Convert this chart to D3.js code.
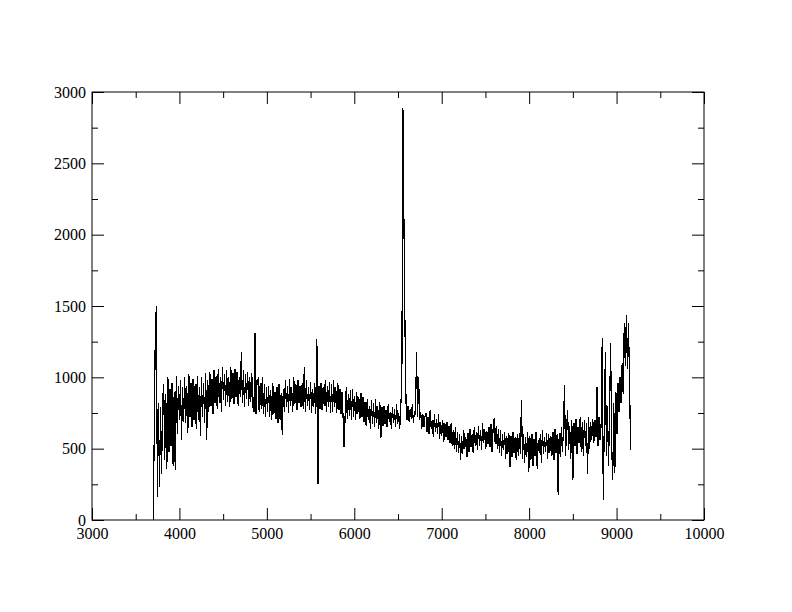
<!DOCTYPE html>
<html>
<head>
  <meta charset="utf-8">
  <script src="https://d3js.org/d3.v7.min.js"></script>
  <style>
    body { margin: 0; background: #fff; }
    .tick line { stroke: #000; }
  </style>
</head>
<body>
<script>
  var waveStart = 3700,
      waveStep = 12;

  var flux = [
    0, 600, 1310, 1500, 160, 820, 230, 790, 320, 840,          // 3700
    950, 420, 880, 360, 1000, 480, 920, 520, 960, 380,         // 3820
    900, 350, 1010, 600, 940, 700, 980, 560, 930, 690,         // 3940
    1000, 680, 940, 610, 1020, 720, 960, 650, 990, 700,        // 4060
    950, 640, 1010, 700, 930, 590, 1000, 720, 960, 680,        // 4180
    1030, 560, 980, 760, 1040, 800, 990, 740, 1050, 820,       // 4300
    1010, 780, 1060, 820, 1000, 760, 1070, 840, 1020, 800,     // 4420
    1050, 830, 1000, 790, 1070, 850, 1030, 810, 1060, 860,     // 4540
    1040, 800, 1000, 860, 1180, 820, 1050, 790, 1020, 850,     // 4660
    1040, 800, 1000, 830, 1030, 790, 760, 1310, 740, 980,      // 4780
    990, 760, 960, 780, 1000, 740, 950, 720, 930, 760,         // 4900
    940, 720, 910, 700, 960, 740, 900, 710, 930, 680,          // 5020
    950, 700, 890, 594, 920, 760, 980, 790, 940, 750,          // 5140
    990, 800, 930, 760, 1000, 810, 950, 770, 980, 820,         // 5260
    940, 790, 960, 780, 1070, 760, 980, 800, 930, 770,         // 5380
    970, 750, 920, 790, 960, 740, 1270, 250, 940, 780,         // 5500
    960, 770, 930, 800, 980, 760, 940, 790, 970, 750,          // 5620
    950, 760, 980, 790, 930, 750, 960, 770, 920, 740,          // 5740
    900, 720, 510, 740, 930, 710, 880, 730, 910, 700,          // 5860
    920, 720, 870, 700, 900, 740, 860, 710, 890, 720,          // 5980
    860, 690, 830, 660, 850, 700, 800, 640, 840, 670,          // 6100
    820, 650, 850, 680, 800, 640, 830, 573, 790, 660,          // 6220
    800, 670, 770, 650, 810, 690, 760, 640, 790, 680,          // 6340
    780, 650, 810, 670, 750, 640, 800, 960, 2890, 2090,        // 6460
    1340, 820, 700, 800, 690, 780, 710, 810, 680, 760,         // 6580
    740, 1180, 720, 1000, 700, 760, 640, 740, 650, 720,        // 6700
    750, 620, 720, 600, 770, 640, 700, 580, 740, 620,          // 6820
    710, 600, 740, 570, 690, 590, 700, 550, 680, 580,          // 6940
    690, 560, 660, 540, 680, 520, 630, 500, 650, 480,          // 7060
    620, 470, 600, 418, 590, 460, 630, 500, 580, 440,          // 7180
    610, 480, 640, 510, 600, 470, 650, 520, 620, 490,          // 7300
    660, 520, 630, 490, 680, 540, 640, 500, 620, 530,          // 7420
    650, 510, 670, 480, 640, 715, 530, 660, 500, 640,          // 7540
    470, 630, 450, 600, 490, 620, 430, 590, 460, 610,          // 7660
    370, 590, 440, 620, 470, 580, 420, 600, 450, 610,          // 7780
    460, 840, 430, 600, 400, 580, 440, 620, 335, 590,          // 7900
    420, 600, 380, 570, 450, 620, 360, 560, 470, 600,          // 8020
    400, 630, 460, 580, 480, 610, 430, 600, 470, 590,          // 8140
    450, 620, 420, 640, 470, 600, 172, 610, 440, 650,          // 8260
    480, 620, 945, 450, 640, 770, 490, 660, 430, 700,          // 8380
    277, 680, 520, 710, 460, 650, 540, 720, 480, 690,          // 8500
    450, 700, 520, 680, 325, 720, 500, 690, 560, 710,          // 8620
    540, 700, 580, 930, 520, 720, 560, 680, 1275, 137,         // 8740
    700, 1180, 450, 800, 380, 760, 1240, 520, 277, 820,        // 8860
    330, 900, 600, 960, 760, 1000, 820, 1100, 880, 1380,       // 8980
    1080, 1437, 1060, 1380, 1000, 490                          // 9100
  ];

  var xMajor = [3000, 4000, 5000, 6000, 7000, 8000, 9000, 10000],
      xMinor = [3500, 4500, 5500, 6500, 7500, 8500, 9500],
      yMajor = [0, 500, 1000, 1500, 2000, 2500, 3000],
      yMinor = [250, 750, 1250, 1750, 2250, 2750];

  function draw() {
    "use strict";
    var width = 792, height = 612;
    var plotLeft = 92, plotRight = 704, plotTop = 92, plotBottom = 520;

    var svg = d3.select("body").append("svg")
        .attr("width", width)
        .attr("height", height);

    var x = d3.scaleLinear().domain([3000, 10000]).range([plotLeft, plotRight]);
    var y = d3.scaleLinear().domain([0, 3000]).range([plotBottom, plotTop]);

    var data = flux.map(function (f, i) {
      return { w: waveStart + i * waveStep, f: f };
    });

    // spectrum
    svg.append("path")
        .datum(data)
        .attr("fill", "none")
        .attr("stroke", "#000")
        .attr("stroke-width", 1.2)
        .attr("stroke-linejoin", "miter")
        .attr("shape-rendering", "crispEdges")
        .attr("d", d3.line()
          .x(function (d) { return x(d.w); })
          .y(function (d) { return y(d.f); }));

    // axes, ticks pointing inward (grace style)
    function addAxis(axis, tx, ty, values, size, labels) {
      var g = svg.append("g")
          .attr("transform", "translate(" + tx + "," + ty + ")")
          .call(axis.tickValues(values).tickSize(-size)
            .tickFormat(labels ? d3.format("d") : ""));
      g.select(".domain").remove();
      g.attr("font-size", null).attr("font-family", null);
      g.selectAll("text")
          .attr("font-family", "'Liberation Serif', 'DejaVu Serif', serif")
          .attr("font-size", 16)
          .attr("fill", "#000");
      return g;
    }

    addAxis(d3.axisBottom(x).tickPadding(8), 0, plotBottom, xMajor, 12, true);
    addAxis(d3.axisBottom(x), 0, plotBottom, xMinor, 6, false);
    addAxis(d3.axisTop(x), 0, plotTop, xMajor, 12, false);
    addAxis(d3.axisTop(x), 0, plotTop, xMinor, 6, false);
    addAxis(d3.axisLeft(y).tickPadding(6), plotLeft, 0, yMajor, 12, true);
    addAxis(d3.axisLeft(y), plotLeft, 0, yMinor, 6, false);
    addAxis(d3.axisRight(y), plotRight, 0, yMajor, 12, false);
    addAxis(d3.axisRight(y), plotRight, 0, yMinor, 6, false);

    // frame
    svg.append("rect")
        .attr("x", plotLeft)
        .attr("y", plotTop)
        .attr("width", plotRight - plotLeft)
        .attr("height", plotBottom - plotTop)
        .attr("fill", "none")
        .attr("stroke", "#000")
        .attr("stroke-width", 1);
  }

  draw();
</script>
</body>
</html>
